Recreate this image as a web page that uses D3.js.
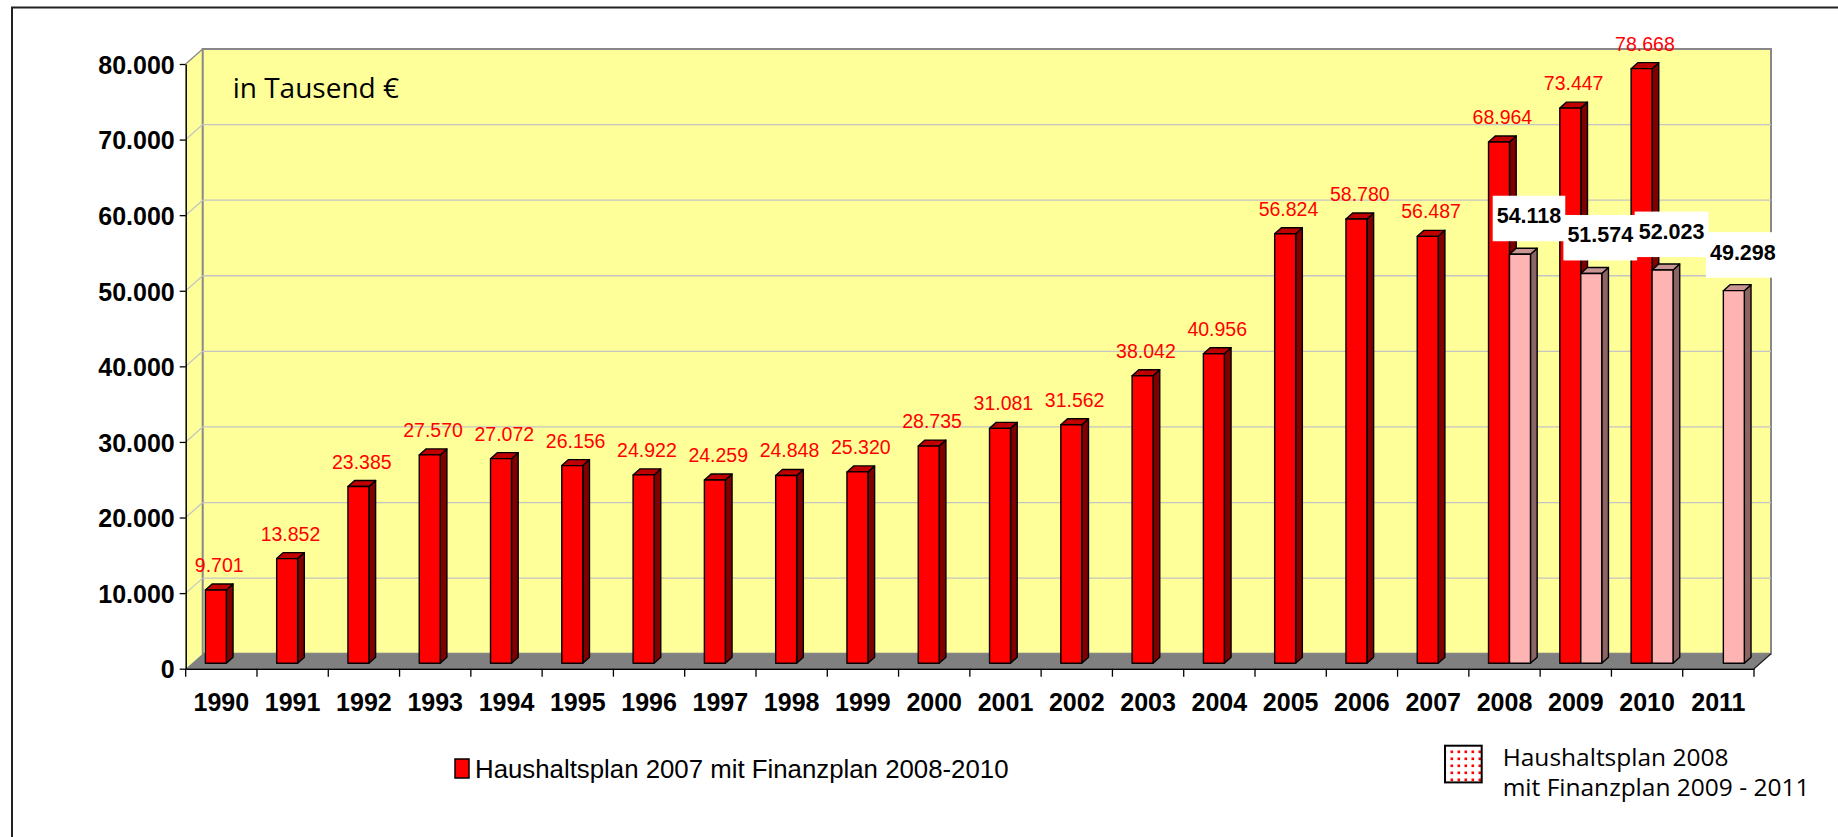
<!DOCTYPE html>
<html>
<head>
<meta charset="utf-8">
<script src="https://cdn.jsdelivr.net/npm/d3@7/dist/d3.min.js"></script>
<style>
  body { margin: 0; background: #fff; }
  svg { display: block; }
</style>
</head>
<body>
<svg id="chart"></svg>
<script>
// values in thousand euro
const years = ['1990', '1991', '1992', '1993', '1994', '1995', '1996', '1997', '1998', '1999', '2000',
  '2001', '2002', '2003', '2004', '2005', '2006', '2007', '2008', '2009', '2010', '2011'];
const plan2007 = [9701, 13852, 23385, 27570, 27072, 26156, 24922, 24259, 24848, 25320, 28735,
  31081, 31562, 38042, 40956, 56824, 58780, 56487, 68964, 73447, 78668, null];
const plan2008 = [null, null, null, null, null, null, null, null, null, null, null,
  null, null, null, null, null, null, null, 54118, 51574, 52023, 49298];
const yTicks = [0, 10000, 20000, 30000, 40000, 50000, 60000, 70000, 80000];
const unitLabel = 'in Tausend €';
const legend2007 = 'Haushaltsplan 2007 mit Finanzplan 2008-2010';
const legend2008 = ['Haushaltsplan 2008', 'mit Finanzplan 2009 - 2011'];

const width = 1838, height = 837;
const wallDx = 17, wallDy = 15;         // depth of the chart box
const shiftX = 5, shiftY = 5.4;          // bars stand a bit behind the front edge
const barDx = 6.7, barDy = 6;            // depth of a single bar
const arial = 'Arial, "Liberation Sans", sans-serif';
const tahoma = '"Open Sans", "Noto Sans", sans-serif';

const de = d3.formatLocale({ decimal: ',', thousands: '.', grouping: [3], currency: ['', ' €'] });
const fmt = de.format(',d');

const svg = d3.select('#chart').attr('width', width).attr('height', height);

const defs = svg.append('defs');
const dots = defs.append('pattern')
  .attr('id', 'dots')
  .attr('width', 7).attr('height', 7)
  .attr('patternUnits', 'userSpaceOnUse');
dots.append('rect').attr('width', 7).attr('height', 7).attr('fill', '#fff');
dots.append('rect').attr('x', 1.5).attr('y', 1.5).attr('width', 2.6).attr('height', 2.6).attr('fill', '#f00');

const x = d3.scaleBand().domain(years).range([185.7, 1754]);
const xInner = d3.scaleBand().domain([0, 1]).range([0, x.bandwidth()]).paddingOuter(0.7);
const y = d3.scaleLinear().domain([0, 80000]).range([668.7, 64]);

const x0 = x.range()[0], x1 = x.range()[1];
const yBase = y(0), yTop = y(80000);
const line = d3.line();

// outer frame (only left and top edges are inside the picture)
svg.append('path')
  .attr('d', `M12,${height} V7.5 H${width}`)
  .attr('fill', 'none')
  .attr('stroke', '#222')
  .attr('stroke-width', 2);

// walls
svg.append('path')
  .attr('d', line([[x0, yTop], [x0 + wallDx, yTop - wallDy], [x0 + wallDx, yBase - wallDy], [x0, yBase]]) + 'Z')
  .attr('fill', '#ffff99');

svg.append('rect')
  .attr('x', x0 + wallDx)
  .attr('y', yTop - wallDy)
  .attr('width', x1 - x0)
  .attr('height', yBase - yTop)
  .attr('fill', '#ffff99')
  .attr('stroke', '#888')
  .attr('stroke-width', 2);

// gridlines
const grid = svg.append('g');
grid.selectAll('line.back')
  .data(yTicks.filter(v => v > 0 && v < 80000))
  .join('line')
  .attr('class', 'back')
  .attr('x1', x0 + wallDx).attr('x2', x1 + wallDx)
  .attr('y1', d => y(d) - wallDy).attr('y2', d => y(d) - wallDy)
  .attr('stroke', '#c4c4c4').attr('stroke-width', 1.3);
grid.selectAll('line.side')
  .data(yTicks.filter(v => v > 0))
  .join('line')
  .attr('class', 'side')
  .attr('x1', x0).attr('x2', x0 + wallDx)
  .attr('y1', d => y(d)).attr('y2', d => y(d) - wallDy)
  .attr('stroke', d => d === 80000 ? '#888' : '#c4c4c4').attr('stroke-width', 1.3);

// floor
svg.append('path')
  .attr('d', line([[x0, yBase], [x0 + wallDx, yBase - wallDy], [x1 + wallDx, yBase - wallDy], [x1, yBase]]) + 'Z')
  .attr('fill', '#808080');
svg.append('line')
  .attr('x1', x1).attr('y1', yBase).attr('x2', x1 + wallDx).attr('y2', yBase - wallDy)
  .attr('stroke', '#222').attr('stroke-width', 1.3);

// "in Tausend €"
svg.append('text')
  .attr('x', 232.7).attr('y', 97.7)
  .attr('font-family', tahoma).attr('font-size', 28)
  .attr('fill', '#000')
  .text(unitLabel);

// bars
const bars = [];
years.forEach((yr, i) => {
  if (plan2007[i] != null) bars.push({ year: yr, s: 0, v: plan2007[i] });
  if (plan2008[i] != null) bars.push({ year: yr, s: 1, v: plan2008[i] });
});
bars.forEach(d => {
  d.bx = x(d.year) + xInner(d.s) + shiftX;
  d.w = xInner.bandwidth();
  d.yb = y(0) - shiftY;
  d.yt = y(d.v) - shiftY;
});

const colors = [
  { front: '#ff0000', side: '#800000', top: '#c00000' },
  { front: '#ffb4b4', side: '#8c6464', top: '#c89494' }
];

const barG = svg.append('g')
  .selectAll('g')
  .data(bars)
  .join('g')
  .attr('stroke', '#000')
  .attr('stroke-width', 1.4)
  .attr('stroke-linejoin', 'round');

barG.append('path')
  .attr('fill', d => colors[d.s].side)
  .attr('d', d => line([[d.bx + d.w, d.yt], [d.bx + d.w + barDx, d.yt - barDy],
    [d.bx + d.w + barDx, d.yb - barDy], [d.bx + d.w, d.yb]]) + 'Z');
barG.append('path')
  .attr('fill', d => colors[d.s].top)
  .attr('d', d => line([[d.bx, d.yt], [d.bx + barDx, d.yt - barDy],
    [d.bx + d.w + barDx, d.yt - barDy], [d.bx + d.w, d.yt]]) + 'Z');
barG.append('rect')
  .attr('x', d => d.bx).attr('y', d => d.yt)
  .attr('width', d => d.w).attr('height', d => d.yb - d.yt)
  .attr('fill', d => colors[d.s].front);

// value labels, series 1
svg.append('g')
  .selectAll('text')
  .data(bars.filter(d => d.s === 0))
  .join('text')
  .attr('x', d => d.bx + d.w / 2 + barDx / 2)
  .attr('y', d => d.yt - 18)
  .attr('text-anchor', 'middle')
  .attr('font-family', arial).attr('font-size', 19.5)
  .attr('fill', '#ff0000')
  .text(d => fmt(d.v));

// value labels, series 2 (white boxes)
const lab2 = svg.append('g')
  .selectAll('g')
  .data(bars.filter(d => d.s === 1))
  .join('g')
  .attr('transform', d => `translate(${d.bx + d.w / 2 + 9},${d.yt - 31})`);
lab2.append('rect').attr('fill', '#fff');
lab2.append('text')
  .attr('text-anchor', 'middle')
  .attr('font-family', arial).attr('font-size', 21.5).attr('font-weight', 'bold')
  .attr('fill', '#000')
  .text(d => fmt(d.v));
lab2.each(function () {
  const g = d3.select(this);
  const tw = g.select('text').node().getComputedTextLength();
  g.select('rect')
    .attr('x', -tw / 2 - 4).attr('y', -27.5)
    .attr('width', tw + 8).attr('height', 45.5);
});

// y axis
const yAxis = svg.append('g')
  .attr('transform', `translate(${x0},0)`)
  .call(d3.axisLeft(y).tickValues(yTicks).tickSize(6).tickSizeOuter(0).tickPadding(5).tickFormat(fmt));
yAxis.select('.domain').attr('stroke', '#000').attr('stroke-width', 1.5);
yAxis.selectAll('.tick line').attr('stroke', '#000').attr('stroke-width', 1.3);
yAxis.selectAll('.tick text')
  .attr('dy', '0.37em')
  .attr('font-family', arial).attr('font-size', 25).attr('font-weight', 'bold')
  .attr('fill', '#000');

// x axis
const xAxis = svg.append('g')
  .attr('transform', `translate(0,${yBase})`)
  .call(d3.axisBottom(x).tickSize(0).tickPadding(24.3));
xAxis.select('.domain').attr('stroke', '#000').attr('stroke-width', 1.5);
xAxis.selectAll('.tick text')
  .attr('font-family', arial).attr('font-size', 25).attr('font-weight', 'bold')
  .attr('fill', '#000');
xAxis.selectAll('line.bound')
  .data(years.map(d => x(d)).concat([x1]))
  .join('line')
  .attr('class', 'bound')
  .attr('x1', d => d).attr('x2', d => d)
  .attr('y1', 0).attr('y2', 8)
  .attr('stroke', '#000').attr('stroke-width', 1.3);

// legend 1
svg.append('rect')
  .attr('x', 455).attr('y', 759).attr('width', 14).attr('height', 19)
  .attr('fill', colors[0].front).attr('stroke', '#000').attr('stroke-width', 1.5);
svg.append('text')
  .attr('x', 475).attr('y', 777.5)
  .attr('font-family', arial).attr('font-size', 25.8)
  .attr('fill', '#000')
  .text(legend2007);

// legend 2
svg.append('rect')
  .attr('x', 1445).attr('y', 745.7).attr('width', 36.7).attr('height', 36.7)
  .attr('fill', 'url(#dots)').attr('stroke', '#000').attr('stroke-width', 2);
svg.append('g')
  .selectAll('text')
  .data(legend2008)
  .join('text')
  .attr('x', 1502.7)
  .attr('y', (d, i) => 765.7 + i * 30.3)
  .attr('font-family', tahoma).attr('font-size', 24.5)
  .attr('fill', '#000')
  .text(d => d);
</script>
</body>
</html>
